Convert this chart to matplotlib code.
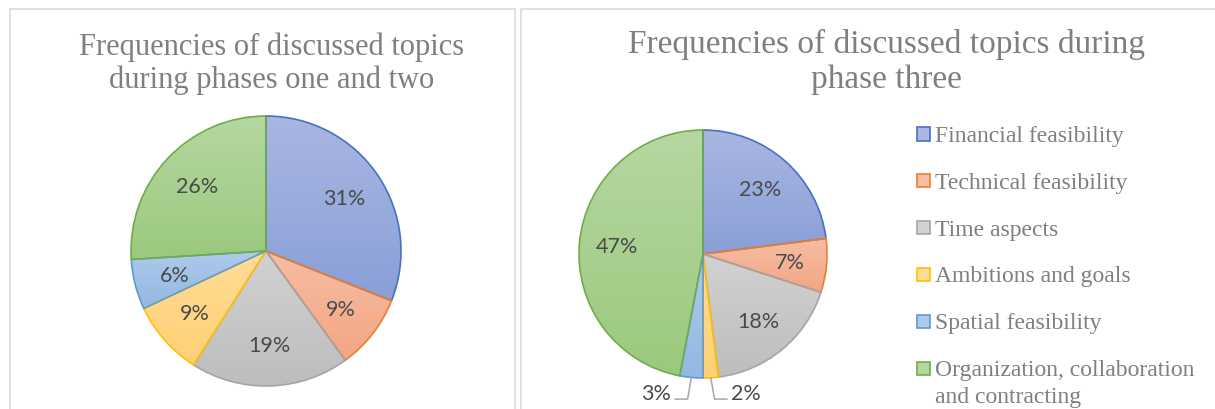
import numpy as np
import matplotlib
matplotlib.use("Agg")
from matplotlib import pyplot as plt
from matplotlib.colors import LinearSegmentedColormap
from matplotlib.patches import Rectangle

topics = [
    "Financial feasibility",
    "Technical feasibility",
    "Time aspects",
    "Ambitions and goals",
    "Spatial feasibility",
    "Organization, collaboration\nand contracting",
]
share_phase12 = [31, 9, 19, 9, 6, 26]
share_phase3 = [23, 7, 18, 2, 3, 47]

title_phase12 = "Frequencies of discussed topics\nduring phases one and two"
title_phase3 = "Frequencies of discussed topics during\nphase three"

# office-style outline colours and gradient fills (top -> bottom)
edge_colors = ["#4472C4", "#ED7D31", "#A5A5A5", "#FFC000", "#5B9BD5", "#70AD47"]
fill_top = ["#A9B6E1", "#F6BDA3", "#D2D2D2", "#FFDC96", "#AFCAEB", "#B6D7A2"]
fill_bottom = ["#8A9FD8", "#F3A684", "#BDBDBD", "#FFD075", "#93B8E3", "#9BC97D"]

W, H = 1215, 410
fig = plt.figure(figsize=(W / 100, H / 100), dpi=100)

TITLE_GRAY = "#7F7F7F"
LABEL_GRAY = "#4A4A4A"
SERIF = "Liberation Serif"


def px_axes(cx, cy, half):
    return fig.add_axes([(cx - half) / W, (H - cy - half) / H, 2 * half / W, 2 * half / H])


def draw_pie(ax, values, lim):
    wedges, _ = ax.pie(
        values,
        colors=fill_bottom,
        startangle=90,
        counterclock=False,
        radius=1,
        wedgeprops=dict(linewidth=1.2),
    )
    for i, w in enumerate(wedges):
        w.set_edgecolor(edge_colors[i])
        w.set_facecolor("none")
        w.set_zorder(3)
        bb = w.get_path().get_extents()
        cmap = LinearSegmentedColormap.from_list("g", [fill_bottom[i], fill_top[i]])
        grad = np.linspace(0, 1, 256).reshape(-1, 1)
        im = ax.imshow(grad, cmap=cmap, origin="lower", aspect="auto",
                       extent=(bb.x0, bb.x1, bb.y0, bb.y1), zorder=2)
        im.set_clip_path(w)

        mid = np.deg2rad((w.theta1 + w.theta2) / 2)
        cx, cy = np.cos(mid), np.sin(mid)
        txt = f"{values[i]}%"
        if values[i] >= 5:
            ax.text(0.7 * cx, 0.7 * cy, txt, ha="center", va="center",
                    fontsize=15.5, family="Lato", color=LABEL_GRAY, zorder=4)
        else:
            # small slice: label below the pie with an elbow leader
            side = np.sign(cx)
            y_line = -1.17
            xs = [cx, cx + side * 0.03, cx + side * 0.13]
            ys = [cy, y_line, y_line]
            ax.plot(xs, ys, color="#A6A6A6", lw=1.1, zorder=4, clip_on=False)
            ax.text(xs[-1] + side * 0.035, y_line, txt,
                    ha="left" if side > 0 else "right", va="baseline",
                    fontsize=15.5, family="Lato", color=LABEL_GRAY, zorder=4)
    ax.set_xlim(-lim, lim)
    ax.set_ylim(-lim, lim)
    ax.set_aspect("equal")
    ax.axis("off")


# panel frames
for x0, x1 in [(10, 515), (521, 1225)]:
    fig.add_artist(Rectangle((x0 / W, -0.05), (x1 - x0) / W, (H - 10) / H + 0.05,
                             transform=fig.transFigure, fill=False,
                             edgecolor="#D9D9D9", linewidth=1.2))

ax1 = px_axes(266, 252, 148)
draw_pie(ax1, share_phase12, 148 / 135)

ax2 = px_axes(703, 255, 155)
draw_pie(ax2, share_phase3, 155 / 124)

fig.text(272 / W, 1 - 63.5 / H, title_phase12, ha="center", va="center",
         fontsize=22, family=SERIF, color=TITLE_GRAY, linespacing=1.16)
fig.text(886 / W, 1 - 61.5 / H, title_phase3, ha="center", va="center",
         fontsize=24, family=SERIF, color=TITLE_GRAY, linespacing=1.19)

# legend for the right panel
row_y = 135
for i, name in enumerate(topics):
    fig.add_artist(Rectangle((917 / W, 1 - (row_y + 6.5) / H), 13 / W, 13 / H,
                             transform=fig.transFigure,
                             facecolor=fill_top[i], edgecolor=edge_colors[i],
                             linewidth=1.2))
    fig.text(935 / W, 1 - (row_y - 9) / H, name, ha="left", va="top",
             fontsize=17, family=SERIF, color=TITLE_GRAY, linespacing=1.4)
    row_y += 46.8

fig.savefig("out.png", dpi=100)
